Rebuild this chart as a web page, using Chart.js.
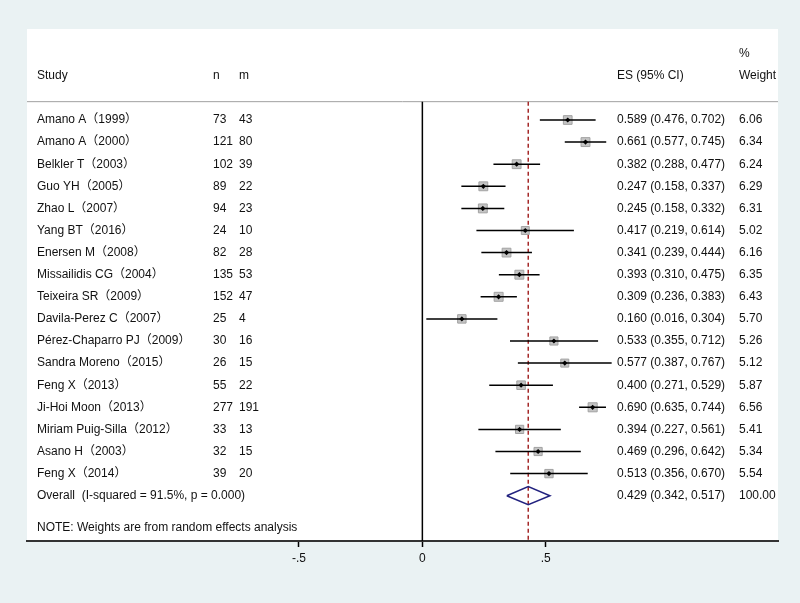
<!DOCTYPE html>
<html><head><meta charset="utf-8">
<script src="https://cdn.jsdelivr.net/npm/chart.js@4/dist/chart.umd.min.js"></script>
<style>html,body{margin:0;padding:0;background:#eaf2f3;}#wrap{width:800px;height:603px;}</style>
</head><body><div id="wrap"><canvas id="c" width="800" height="603"></canvas></div>
<script>
// ---- data ----
const studies = ["Amano A（1999）","Amano A（2000）","Belkler T（2003）","Guo YH（2005）","Zhao L（2007）","Yang BT（2016）","Enersen M（2008）","Missailidis CG（2004）","Teixeira SR（2009）","Davila-Perez C（2007）","Pérez-Chaparro PJ（2009）","Sandra Moreno（2015）","Feng X（2013）","Ji-Hoi Moon（2013）","Miriam Puig-Silla（2012）","Asano H（2003）","Feng X（2014）"];
const nVals = [73,121,102,89,94,24,82,135,152,25,30,26,55,277,33,32,39];
const mVals = [43,80,39,22,23,10,28,53,47,4,16,15,22,191,13,15,20];
const esVals = [0.589,0.661,0.382,0.247,0.245,0.417,0.341,0.393,0.309,0.160,0.533,0.577,0.400,0.690,0.394,0.469,0.513];
const ciLow = [0.476,0.577,0.288,0.158,0.158,0.219,0.239,0.310,0.236,0.016,0.355,0.387,0.271,0.635,0.227,0.296,0.356];
const ciHigh = [0.702,0.745,0.477,0.337,0.332,0.614,0.444,0.475,0.383,0.304,0.712,0.767,0.529,0.744,0.561,0.642,0.670];
const weights = [6.06,6.34,6.24,6.29,6.31,5.02,6.16,6.35,6.43,5.70,5.26,5.12,5.87,6.56,5.41,5.34,5.54];
const overallES = 0.429, overallLow = 0.342, overallHigh = 0.517, overallWeight = 100.00;
const overallLabel = "Overall  (I-squared = 91.5%, p = 0.000)";
const noteText = "NOTE: Weights are from random effects analysis";
const tickValues = [-0.5, 0, 0.5];
const tickLabels = ["-.5", "0", ".5"];

// ---- layout ----
const X_MIN = -1.602, X_MAX = 1.441;
const Y_MIN = -4.118, Y_MAX = 19.05;
const HEADER_RULE = -0.83;
const FONT = '12px "Liberation Sans", Arial, "Noto Sans CJK SC", sans-serif';
const COL = {name: 37, n: 213, m: 239, es: 617, w: 739};

const nRows = studies.length;
const ciData = [];
studies.forEach((s, i) => { ciData.push({x: ciLow[i], y: i}, {x: ciHigh[i], y: i}, {x: NaN, y: NaN}); });
const boxData = studies.map((s, i) => ({x: esVals[i], y: i, w: weights[i]}));
const dotData = studies.map((s, i) => ({x: esVals[i], y: i}));
const oy = nRows; // overall row
const diamondData = [{x: overallLow, y: oy}, {x: overallES, y: oy - 0.41}, {x: overallHigh, y: oy}, {x: overallES, y: oy + 0.41}, {x: overallLow, y: oy}];

const bgPlugin = {
  id: 'bg',
  beforeDraw(chart) {
    const {ctx, chartArea: a} = chart;
    ctx.save();
    ctx.fillStyle = '#eaf2f3';
    ctx.fillRect(0, 0, chart.width, chart.height);
    ctx.fillStyle = '#ffffff';
    ctx.fillRect(a.left, a.top, a.right - a.left, a.bottom - a.top);
    ctx.restore();
  }
};
const textPlugin = {
  id: 'texts',
  afterDraw(chart) {
    const {ctx} = chart;
    const ys = chart.scales.y;
    ctx.save();
    ctx.font = FONT;
    ctx.fillStyle = '#111';
    ctx.textBaseline = 'middle';
    ctx.textAlign = 'left';
    const t = (s, x, v) => ctx.fillText(s, x, ys.getPixelForValue(v));
    t('%', COL.w, -3);
    t('Study', COL.name, -2); t('n', COL.n, -2); t('m', COL.m, -2);
    t('ES (95% CI)', COL.es, -2); t('Weight', COL.w, -2);
    studies.forEach((s, i) => {
      t(s, COL.name, i);
      t(String(nVals[i]), COL.n, i);
      t(String(mVals[i]), COL.m, i);
      t(esVals[i].toFixed(3) + ' (' + ciLow[i].toFixed(3) + ', ' + ciHigh[i].toFixed(3) + ')', COL.es, i);
      t(weights[i].toFixed(2), COL.w, i);
    });
    t(overallLabel, COL.name, oy);
    t(overallES.toFixed(3) + ' (' + overallLow.toFixed(3) + ', ' + overallHigh.toFixed(3) + ')', COL.es, oy);
    t(overallWeight.toFixed(2), COL.w, oy);
    t(noteText, COL.name, oy + 1.45);
    ctx.restore();
  }
};

new Chart(document.getElementById('c'), {
  type: 'scatter',
  data: {
    datasets: [
      {label: 'dots', data: dotData, pointStyle: 'rectRot', pointRadius: 2.6, backgroundColor: '#000', borderColor: '#000', borderWidth: 0, order: 1},
      {label: 'ci', data: ciData, showLine: true, spanGaps: false, borderColor: '#000', borderWidth: 1.5, pointRadius: 0, order: 2},
      {label: 'boxes', data: boxData, pointStyle: 'rect',
        pointRadius: ctx => 2.5 * Math.sqrt(ctx.raw.w), backgroundColor: '#c4c4c4', borderColor: '#a2a2a2', borderWidth: 1, order: 3},
      {label: 'diamond', data: diamondData, showLine: true, borderColor: '#22227f', borderWidth: 1.5, pointRadius: 0, order: 4},
      {label: 'overall', data: [{x: overallES, y: HEADER_RULE}, {x: overallES, y: Y_MAX}], showLine: true, borderColor: '#a52a2a', borderWidth: 1.5, borderDash: [4, 3], pointRadius: 0, order: 5},
      {label: 'zero', data: [{x: 0, y: HEADER_RULE}, {x: 0, y: Y_MAX}], showLine: true, borderColor: '#000', borderWidth: 1.5, pointRadius: 0, order: 6},
      {label: 'rule', data: [{x: X_MIN, y: HEADER_RULE}, {x: X_MAX, y: HEADER_RULE}], showLine: true, borderColor: '#a0a0a0', borderWidth: 1, pointRadius: 0, order: 7}
    ]
  },
  options: {
    responsive: false,
    animation: false,
    devicePixelRatio: 1,
    layout: {padding: {left: 27, right: 22, top: 29, bottom: 0}},
    plugins: {legend: {display: false}, tooltip: {enabled: false}},
    scales: {
      x: {
        type: 'linear', min: X_MIN, max: X_MAX,
        afterBuildTicks: s => { s.ticks = tickValues.map(v => ({value: v})); },
        afterFit: s => { s.height = 62; },
        ticks: {callback: (v, i) => tickLabels[i], color: '#111', font: {size: 12, family: '"Liberation Sans", Arial, sans-serif'}, padding: 4, autoSkip: false, maxRotation: 0},
        grid: {drawOnChartArea: false, drawTicks: true, tickLength: 6, color: '#000', tickWidth: 1.5},
        border: {display: true, color: '#333', width: 2}
      },
      y: {type: 'linear', display: false, reverse: true, min: Y_MIN, max: Y_MAX}
    }
  },
  plugins: [bgPlugin, textPlugin]
});
</script></body></html>
